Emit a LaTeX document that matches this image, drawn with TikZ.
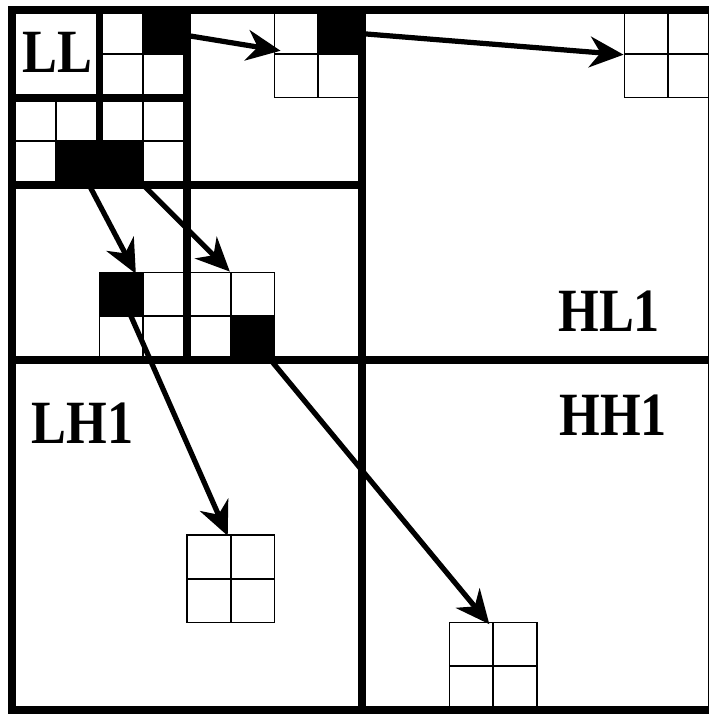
\documentclass[tikz,border=0pt]{standalone}
\usepackage{fontspec}
\setmainfont{Liberation Serif}
\usetikzlibrary{arrows.meta, calc}

\begin{document}
\begin{tikzpicture}[x=0.5cm, y=-0.5cm,
    cell/.style={draw, line width=0.6pt, minimum size=5mm, inner sep=0pt},
    band/.style={line width=2.6pt},
    link/.style={line width=1.7pt, -{Stealth[length=11pt, width=10pt, inset=3.5pt]}},
    lbl/.style={font=\fontsize{20}{24}\selectfont\bfseries, inner sep=0pt, xscale=0.85}]
    \useasboundingbox (-0.2743,-0.2286) rectangle (15.9314,16.0914);
    \clip (-0.2743,-0.2286) rectangle (15.9314,16.0914);
    \foreach \g/\gx/\gy/\bk in {hl3/2/0/1, lh3/0/2/3, hh3/2/2/2, hl2/6/0/1, lh2/2/6/0, hh2/4/6/3, hl1/14/0/9, lh1/4/12/9, hh1/10/14/9} {
      \foreach \r in {0,1} {
        \foreach \c in {0,1} {
          \pgfmathtruncatemacro\idx{2*\r+\c}
          \ifnum\idx=\bk \def\fc{black}\else\def\fc{white}\fi
          \node[cell, fill=\fc] (\g-\r\c) at (\gx+\c+0.5, \gy+\r+0.5) {};
        }
      }
    }
    \draw[band] (0,0) rectangle (16,16);
    \draw[band] (8,0) -- (8,16) (0,8) -- (16,8);
    \draw[band] (4,0) -- (4,8) (0,4) -- (8,4);
    \draw[band] (2,0) -- (2,4) (0,2) -- (4,2);
    \node[lbl] (ll) at (1.03,0.96) {LL};
    \node[lbl] (hltxt) at (13.65,6.89) {HL1};
    \node[lbl] (hhtxt) at (13.74,9.26) {HH1};
    \node[lbl] (lhtxt) at (1.61,9.45) {LH1};
    \draw[link] (hl3-01.center) -- ([shift={(0.16,-0.09)}]hl2-00.south west);
    \draw[link] (hl2-01.center) -- (hl1-00.south west);
    \draw[link] (lh3-11.center) -- ([shift={(-0.19,0.05)}]lh2-00.north east);
    \draw[link] (hh3-10.center) -- (hh2-01.north west);
    \draw[link] (lh2-00.center) -- ([shift={(-0.09,0.04)}]lh1-00.north east);
    \draw[link] (hh2-11.center) -- ([shift={(-0.11,0.06)}]hh1-00.north east);
\end{tikzpicture}
\end{document}
